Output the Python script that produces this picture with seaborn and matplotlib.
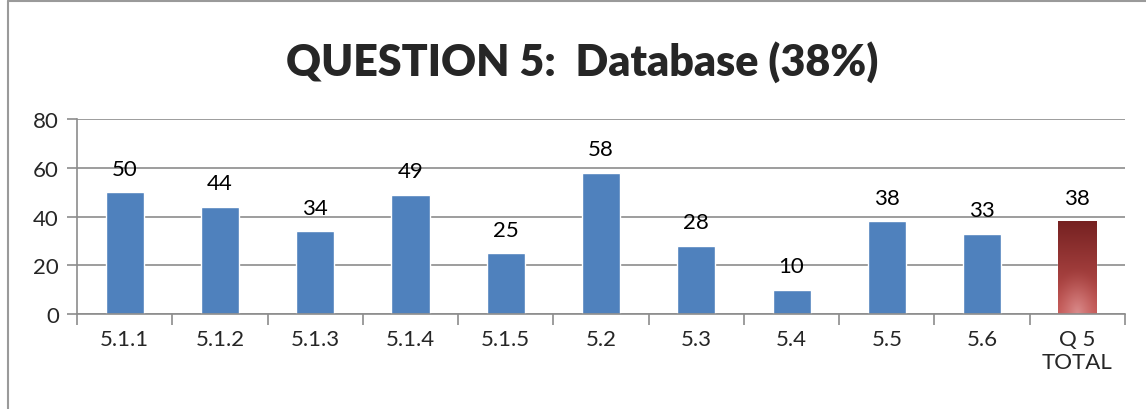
import numpy as np
import matplotlib; matplotlib.use("Agg")
import matplotlib.pyplot as plt
from matplotlib.lines import Line2D
import seaborn as sns
import pandas as pd

categories = ["5.1.1", "5.1.2", "5.1.3", "5.1.4", "5.1.5", "5.2", "5.3", "5.4", "5.5", "5.6", "Q 5\nTOTAL"]
scores     = [50, 44, 34, 49, 25, 58, 28, 10, 38, 33, 38]
y_ticks    = [0, 20, 40, 60, 80]
title      = "QUESTION 5:  Database (38%)"

BLUE, GRID = "#4F81BD", "#8C8C8C"

sns.set_theme(style="white")
plt.rcParams["font.family"] = ["Lato", "DejaVu Sans"]

df = pd.DataFrame({"cat": categories, "score": scores})
fig = plt.figure(figsize=(11.46, 4.10), dpi=100)
ax = fig.add_axes([0.0672, 0.2317, 0.9145, 0.4756])

palette = [BLUE] * (len(categories) - 1) + ["#A33A38"]
sns.barplot(data=df, x="cat", y="score", hue="cat", palette=palette,
            legend=False, width=0.4, saturation=1, ax=ax)

# gradient fill for the total bar
total_bar = ax.patches[-1]
x0, w, h = total_bar.get_x(), total_bar.get_width(), total_bar.get_height()
yy = np.linspace(0, 1, 200)[:, None]
xx = np.linspace(-1, 1, 60)[None, :]
top_c = np.array([0.46, 0.13, 0.13])
mid_c = np.array([0.77, 0.33, 0.32])
glow  = np.array([0.85, 0.55, 0.55])
base = top_c[None, None, :] * (1 - yy[..., None]) + mid_c[None, None, :] * yy[..., None]
r = np.clip(1 - np.sqrt(xx ** 2 * 0.5 + ((1 - yy) * 2.0) ** 2), 0, 1)[..., None] ** 1.5
img = base * (1 - r) + glow[None, None, :] * r
total_bar.set_facecolor("none")
im = ax.imshow(img, extent=(x0, x0 + w, 0, h), aspect="auto", origin="upper", zorder=2)
im.set_clip_path(total_bar)

for i, v in enumerate(scores):
    ax.text(i, v + 5.5, str(v), ha="center", va="bottom", fontsize=16, color="black")

ax.set_xlim(-0.5, len(categories) - 0.5)
ax.set_ylim(0, 80)
ax.set_yticks(y_ticks)
ax.set_xlabel(""); ax.set_ylabel("")
ax.yaxis.grid(True, color=GRID, lw=1.2)
ax.set_axisbelow(True)
for s in ["top", "right"]:
    ax.spines[s].set_visible(False)
for s in ["left", "bottom"]:
    ax.spines[s].set_color(GRID); ax.spines[s].set_linewidth(1.2)
ax.tick_params(axis="y", length=7, color=GRID, width=1.2, labelsize=16, pad=6, left=True)
ax.tick_params(axis="x", which="major", length=0, labelsize=16, pad=11)
ax.set_xticks(np.arange(-0.5, len(categories)), minor=True)
ax.tick_params(axis="x", which="minor", length=8, color=GRID, width=1.2, bottom=True)

fig.text(0.508, 0.849, title, ha="center", va="center", fontsize=31, fontweight="heavy")

# chart frame
fig.add_artist(Line2D([0.007, 0.007], [0, 0.995], color="#9A9A9A", lw=1.5, transform=fig.transFigure))
fig.add_artist(Line2D([0.007, 1], [0.995, 0.995], color="#9A9A9A", lw=1.5, transform=fig.transFigure))

fig.savefig("out.png", dpi=100)
